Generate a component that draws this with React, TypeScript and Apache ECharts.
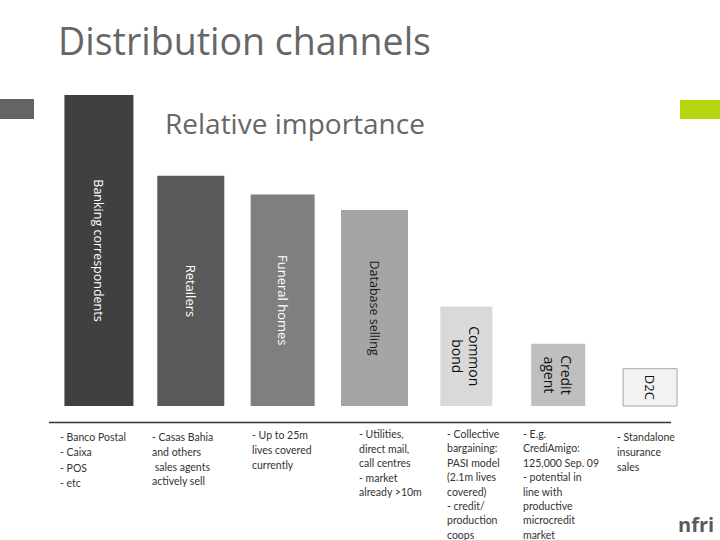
import React, { useEffect, useRef } from "react";
import * as echarts from "echarts";

const channels = [
  "Banking correspondents",
  "Retailers",
  "Funeral homes",
  "Database selling",
  "Common\nbond",
  "Credit\nagent",
  "D2C",
];
const importance = [100, 74, 68, 63, 32, 20, 12];

const notes1 = ["- Banco Postal", "- Caixa", "- POS", "- etc"];
const notes2 = ["- Casas Bahia", "and others", " sales agents", "actively sell"];
const notes3 = ["- Up to 25m", "lives covered", "currently"];
const notes4 = ["- Utilities,", "direct mail,", "call centres", "- market", "already >10m"];
const notes5 = [
  "- Collective",
  "bargaining:",
  "PASI model",
  "(2.1m lives",
  "covered)",
  "- credit/",
  "production",
  "coops",
];
const notes6 = [
  "- E.g.",
  "CrediAmigo:",
  "125,000 Sep. 09",
  "- potential in",
  "line with",
  "productive",
  "microcredit",
  "market",
];
const notes7 = ["- Standalone", "insurance", "sales"];

const barColors = ["#404040", "#595959", "#7f7f7f", "#a5a5a5", "#d9d9d9", "#bfbfbf", "#f2f2f2"];
const labelColors = ["#ffffff", "#ffffff", "#ffffff", "#1a1a1a", "#111111", "#111111", "#111111"];
const barWidths = [69, 67, 64, 67, 52, 54, 54];
const labelSizes = [12.5, 13, 13, 12.5, 14, 14, 13];

export default function App() {
  const ref = useRef<HTMLDivElement>(null);
  useEffect(() => {
    document.body.style.margin = "0";
    if (!ref.current) return;
    const chart = echarts.init(ref.current, undefined, { renderer: "svg" });
    const noteCols = [
      { lines: notes1, x: 60, y: 437, lh: 15.3 },
      { lines: notes2, x: 152, y: 437, lh: 14.8 },
      { lines: notes3, x: 252, y: 435, lh: 15 },
      { lines: notes4, x: 359, y: 434, lh: 14.6 },
      { lines: notes5, x: 447, y: 434, lh: 14.4 },
      { lines: notes6, x: 523, y: 434, lh: 14.4 },
      { lines: notes7, x: 617, y: 437, lh: 15 },
    ];
    chart.setOption({
      animation: false,
      backgroundColor: "#ffffff",
      grid: { left: 53, right: 24, top: 95, bottom: 134 },
      xAxis: {
        type: "category",
        data: channels,
        show: false,
      },
      yAxis: { type: "value", min: 0, max: 100, show: false },
      series: [
        {
          type: "custom",
          data: importance.map((v, i) => [i, v]),
          renderItem: (params: any, api: any) => {
            const i = api.value(0);
            const v = api.value(1);
            const top = api.coord([i, v]);
            const base = api.coord([i, 0]);
            const w = barWidths[i];
            const cx = top[0];
            const h = base[1] - top[1];
            return {
              type: "group",
              children: [
                {
                  type: "rect",
                  shape: { x: cx - w / 2, y: top[1], width: w, height: h },
                  style: {
                    fill: barColors[i],
                    stroke: i === 6 ? "#a6a6a6" : null,
                    lineWidth: i === 6 ? 1 : 0,
                  },
                },
                {
                  type: "text",
                  x: cx,
                  y: top[1] + h / 2,
                  rotation: -Math.PI / 2,
                  style: {
                    text: channels[i],
                    fill: labelColors[i],
                    fontFamily: "Open Sans",
                    fontSize: labelSizes[i],
                    align: "center",
                    verticalAlign: "middle",
                    lineHeight: labelSizes[i] + 3,
                  },
                },
              ],
            };
          },
        },
      ],
      graphic: [
        {
          type: "text",
          x: 58,
          y: 40,
          style: {
            text: "Distribution channels",
            fill: "#666666",
            fontFamily: "Open Sans",
            fontSize: 37.5,
            verticalAlign: "middle",
          },
        },
        {
          type: "text",
          x: 165,
          y: 123,
          style: {
            text: "Relative importance",
            fill: "#666666",
            fontFamily: "Open Sans",
            fontSize: 28,
            verticalAlign: "middle",
          },
        },
        {
          type: "rect",
          shape: { x: 0, y: 99, width: 34, height: 20 },
          style: { fill: "#646464" },
        },
        {
          type: "rect",
          shape: { x: 680, y: 100, width: 40, height: 19 },
          style: { fill: "#b5d60f" },
        },
        {
          type: "line",
          shape: { x1: 49, y1: 422.5, x2: 671, y2: 422.5 },
          style: { stroke: "#333333", lineWidth: 1.5 },
        },
        ...noteCols.map((c) => ({
          type: "text",
          x: c.x,
          y: c.y - c.lh / 2,
          style: {
            text: c.lines.join("\n"),
            fill: "#333333",
            fontFamily: "Lato",
            fontSize: 10.5,
            lineHeight: c.lh,
            verticalAlign: "top",
          },
        })),
        {
          type: "text",
          x: 678,
          y: 514,
          style: {
            text: "nfri",
            fill: "#5a5a5a",
            fontFamily: "Open Sans",
            fontWeight: "bold",
            fontSize: 20,
            verticalAlign: "top",
          },
        },
      ],
    });
    return () => chart.dispose();
  }, []);
  return <div ref={ref} style={{ width: 720, height: 540 }} />;
}
